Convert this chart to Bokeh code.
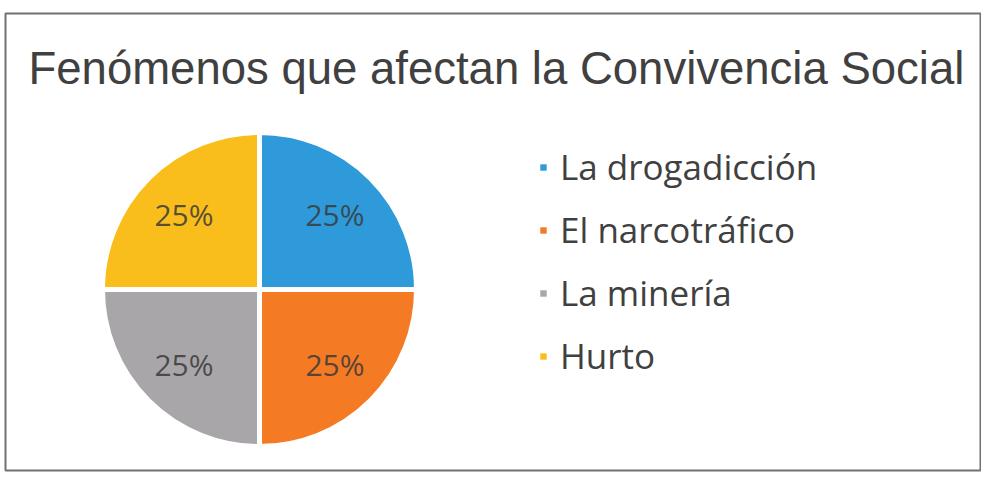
import math
from bokeh.plotting import figure
from bokeh.models import ColumnDataSource, Legend, LegendItem, Range1d
from bokeh.core.properties import value
from bokeh.embed import file_html
from bokeh.resources import INLINE

title_text = "Fenómenos que afectan la Convivencia Social"
categories = ["La drogadicción", "El narcotráfico", "La minería", "Hurto"]
values = [25, 25, 25, 25]
colors = ["#2E9ADA", "#F57A24", "#A9A6A9", "#F9BE1C"]

W, H = 981, 472
ML, MT, MR, MB = 5, 13, 1, 2
FW, FH = W - ML - MR, H - MT - MB

total = float(sum(values))
starts, ends, mids, labels = [], [], [], []
acc = 0.0
for v in values:
    s = math.pi / 2 - acc / total * 2 * math.pi
    e = math.pi / 2 - (acc + v) / total * 2 * math.pi
    starts.append(s)
    ends.append(e)
    mids.append((s + e) / 2)
    labels.append(f"{round(v / total * 100)}%")
    acc += v

cx, cy, R = 254, 181, 157
lab_r = 0.68 * R
source = ColumnDataSource(dict(
    cat=categories, val=values, color=colors, start=starts, end=ends,
    lx=[cx + lab_r * math.cos(m) for m in mids],
    ly=[cy + lab_r * math.sin(m) for m in mids],
    label=labels,
))

p = figure(width=W, height=H, output_backend="svg", toolbar_location=None,
           x_range=Range1d(0, FW), y_range=Range1d(0, FH),
           min_border_left=ML, min_border_top=MT, min_border_right=MR,
           min_border_bottom=MB,
           background_fill_color="white", border_fill_color="white")
p.axis.visible = False
p.grid.visible = False
p.outline_line_color = "#75706D"
p.outline_line_width = 2

r = p.wedge(x=cx, y=cy, radius=R, start_angle="start", end_angle="end",
            direction="clock", fill_color="color", line_color=None, source=source)
p.wedge(x=cx, y=cy, radius=R, start_angle="start", end_angle="end",
        direction="clock", fill_color=None, line_color="white", line_width=5,
        source=source)

p.text(x="lx", y="ly", text="label", source=source, text_align="center",
       text_baseline="middle", text_font=value("Open Sans"),
       text_font_size="30px", text_color="#3A3A3A", text_alpha=0.85)

p.text(x=[23], y=[402], text=[title_text], text_align="left",
       text_baseline="alphabetic", text_font=value("Liberation Sans"),
       text_font_size="45.5px", text_color="#404040")

legend = Legend(items=[LegendItem(label=c, renderers=[r], index=i)
                       for i, c in enumerate(categories)],
                location=(534, 91), orientation="vertical",
                glyph_width=8, glyph_height=8, label_standoff=13,
                spacing=16, padding=0, margin=0,
                border_line_color=None, background_fill_alpha=0,
                label_text_font="Open Sans", label_text_font_size="35px",
                label_text_color="#404040")
p.add_layout(legend, "center")

open("out.html", "w").write(file_html(p, INLINE))
